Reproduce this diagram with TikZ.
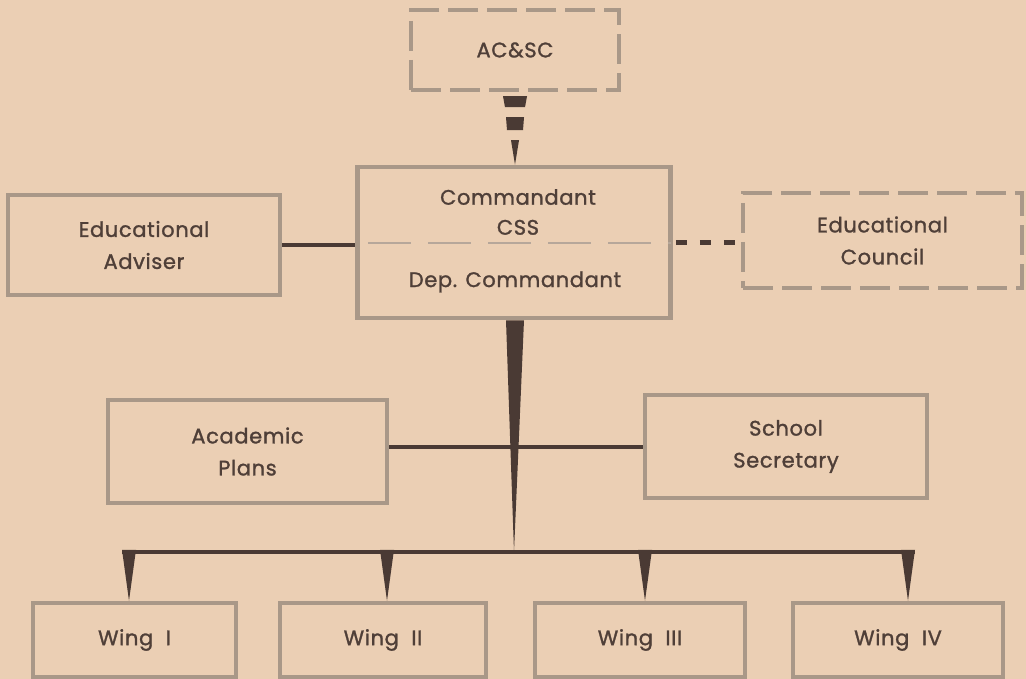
\documentclass[tikz,border=0pt]{standalone}
\usepackage{fontspec}
\setmainfont{Poppins}
\newfontfamily\lblfont{Poppins}[FakeBold=1.3, LetterSpace=3]
\usetikzlibrary{calc}
\definecolor{bg}{HTML}{EBCFB4}
\definecolor{boxc}{HTML}{A99888}
\definecolor{txtc}{HTML}{4F3F38}
\definecolor{connc}{HTML}{4A3A34}
\tikzset{
  box/.style={draw=boxc, line width=4.5pt, inner sep=0pt, text=txtc, align=center, font=\lblfont\fontsize{21}{32}\selectfont},
  dbox/.style={box, dash pattern=on 30pt off 9pt},
  txt/.style={text=txtc, align=center, inner sep=0pt, font=\lblfont\fontsize{21}{30}\selectfont},
  conn/.style={draw=connc, line width=4pt},
  connfill/.style={fill=connc},
  innerdash/.style={draw=boxc!85, line width=2.5pt, dash pattern=on 43pt off 17pt}
}
\begin{document}
\begin{tikzpicture}[x=1pt,y=-1pt]
\fill[bg] (0,0) rectangle (1026,679);
\useasboundingbox (0,0) rectangle (1026,679);

% boxes
\node[dbox, minimum width=208pt, minimum height=80pt] (acsc) at (515,50) {AC\&SC};
\node[box, minimum width=313pt, minimum height=151pt] (cmd) at (514,242.5) {};
\node[txt] (cmdt) at (518,212) {Commandant\\CSS};
\node[txt] (dep) at (515,282) {Dep. Commandant};
\node[box, minimum width=272pt, minimum height=100pt] (adv) at (144,245) {Educational\\Adviser};
\node[dbox, minimum width=279pt, minimum height=95pt] (council) at (882.5,240.5) {Educational\\Council};
\node[box, minimum width=279pt, minimum height=103pt] (plans) at (247.5,451.5) {Academic\\Plans};
\node[box, minimum width=282pt, minimum height=103pt] (sec) at (786,446.5) {School\\Secretary};
\node[box, minimum width=203pt, minimum height=74pt] (w1) at (134.5,640) {Wing\ \ I};
\node[box, minimum width=206pt, minimum height=74pt] (w2) at (383,640) {Wing\ \ II};
\node[box, minimum width=210pt, minimum height=74pt] (w3) at (640,640) {Wing\ \ III};
\node[box, minimum width=210pt, minimum height=74pt] (w4) at (898,640) {Wing\ \ IV};

% divider inside commandant box
\draw[innerdash] ($(cmd.west)+(13,0.5)$) -- ($(cmd.east)+(-2,0.5)$);

% AC&SC -> Commandant (broken tapered connector)
\fill[connfill] ([shift={(-12,4)}]acsc.south) -- ([shift={(12,4)}]acsc.south) -- ([shift={(10,15)}]acsc.south) -- ([shift={(-10,15)}]acsc.south) -- cycle;
\fill[connfill] ([shift={(-9,25)}]acsc.south) -- ([shift={(9,25)}]acsc.south) -- ([shift={(8,38)}]acsc.south) -- ([shift={(-8,38)}]acsc.south) -- cycle;
\fill[connfill] ([shift={(-4,48)}]acsc.south) -- ([shift={(4,48)}]acsc.south) -- ([xshift=1pt]cmd.north) -- cycle;

% side connectors
\draw[conn] (adv.east) -- (adv.east -| cmd.west);
\draw[conn, line width=5pt, dash pattern=on 11pt off 13pt] ([xshift=3pt]cmd.east) -- (cmd.east -| council.west);

% trunk
\coordinate (hub) at ($(w1.north)!0.5!(w4.north)+(0,-49)$);
\fill[connfill] ([xshift=-8pt]cmd.south) -- ([xshift=10pt]cmd.south) -- (hub -| cmd.south) -- cycle;
\draw[conn] (sec.west -| plans.east) -- (sec.west);

% bar and drops
\draw[conn, line width=4.5pt] ($(w1.north)+(-12.5,-49)$) -- ($(w4.north)+(17,-49)$);
\fill[connfill] ([xshift=-5.5pt]w1.north) -- ++(-7,-51) -- ++(14,0) -- cycle;
\fill[connfill] ([xshift=4pt]w2.north) -- ++(-7,-51) -- ++(14,0) -- cycle;
\fill[connfill] ([xshift=5pt]w3.north) -- ++(-7,-51) -- ++(14,0) -- cycle;
\fill[connfill] ([xshift=10pt]w4.north) -- ++(-7,-51) -- ++(14,0) -- cycle;
\end{tikzpicture}
\end{document}
